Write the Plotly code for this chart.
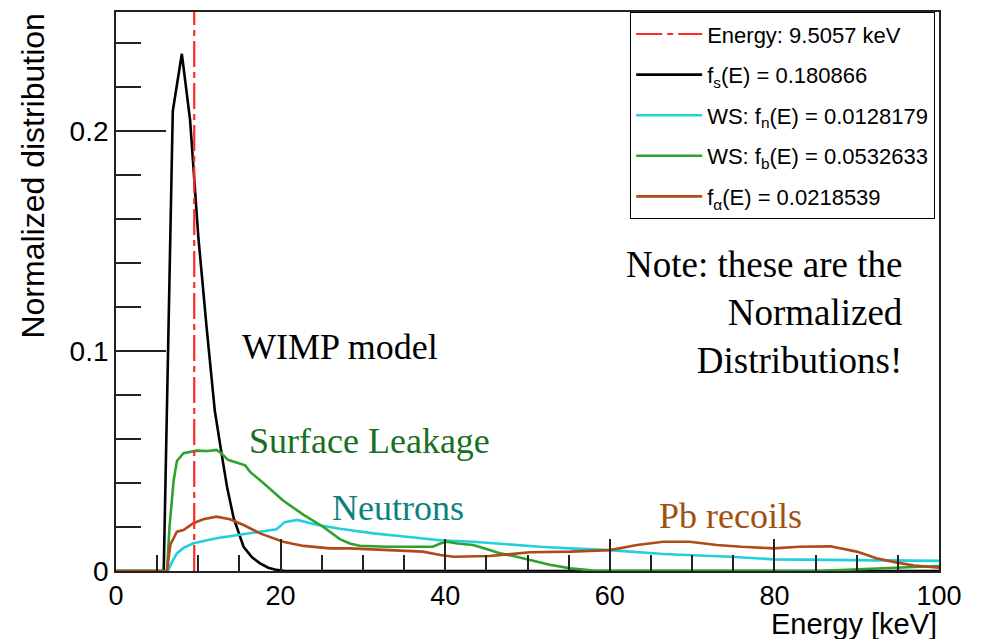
import plotly.graph_objects as go

# ---- data ----
energy_line = 9.5057

wimp_E = [0, 5.8, 6.9, 8.0, 9.0, 10.0, 11.0, 12.0, 12.8, 13.5, 14.3, 15.5, 16.5, 17.5, 18.5, 19.5, 20.5, 100]
wimp_v = [0, 0, 0.209, 0.235, 0.205, 0.152, 0.111, 0.073, 0.054, 0.038, 0.024, 0.011, 0.0063, 0.0035, 0.0015, 0.0005, 0, 0]

surf_E = [0, 6.2, 6.5, 7.0, 7.4, 8.2, 9.8, 11.2, 12.2, 12.8, 13.6, 14.2, 14.7, 15.3, 15.7, 16.3, 17.9,
          20.3, 22.8, 25.2, 27.2, 28.4, 29.6, 33.0, 36.0, 38.5, 39.4, 40.2, 41.5, 43.4, 45.4, 46.7,
          48.3, 50.3, 51.5, 52.7, 55.2, 58.0, 85.0, 90.0, 95.0, 100]
surf_v = [0, 0, 0.020, 0.041, 0.050, 0.0535, 0.0547, 0.0545, 0.055, 0.0535, 0.0505, 0.0498, 0.0492, 0.0485,
          0.0480, 0.045, 0.040, 0.032, 0.0255, 0.020, 0.0145, 0.0125, 0.0115, 0.011, 0.011, 0.011, 0.0125,
          0.0133, 0.0125, 0.0118, 0.0095, 0.0080, 0.0068, 0.0050, 0.0040, 0.0028, 0.0012, 0.0002, 0, 0.0008,
          0.0018, 0.0023]

neut_E = [0, 6.3, 6.8, 7.4, 8.2, 9.4, 12.2, 14.7, 17.5, 19.5, 20.0, 20.5, 22.0, 24.4, 27.2, 28.4, 31.3,
          35.3, 39.4, 43.4, 48.3, 51.5, 55.2, 60.0, 66.5, 74.6, 79.9, 86.8, 94.9, 100]
neut_v = [0, 0, 0.004, 0.008, 0.0105, 0.0126, 0.0149, 0.0164, 0.0179, 0.019, 0.0205, 0.0222, 0.0232,
          0.021, 0.0192, 0.0186, 0.0171, 0.0156, 0.014, 0.0133, 0.0118, 0.011, 0.0103, 0.0095, 0.0077,
          0.0065, 0.0053, 0.005, 0.0047, 0.0046]

pb_E = [0, 6.2, 6.6, 7.4, 8.2, 9.4, 10.6, 12.2, 13.85, 15.5, 17.5, 20.3, 22.8, 26.0, 28.4, 33.3, 37.3,
        39.4, 41.0, 45.4, 50.3, 55.2, 60.0, 63.3, 66.5, 69.7, 73.0, 76.0, 79.9, 83.0, 86.8, 90.0, 92.4,
        94.9, 97.0, 100]
pb_v = [0, 0, 0.012, 0.0179, 0.0186, 0.0217, 0.0235, 0.0247, 0.0235, 0.0209, 0.0171, 0.0133, 0.0114,
        0.0103, 0.0103, 0.0095, 0.0088, 0.0073, 0.0065, 0.0068, 0.0085, 0.0088, 0.0095, 0.0118, 0.0133,
        0.0133, 0.0118, 0.011, 0.0103, 0.011, 0.0112, 0.0088, 0.0058, 0.0038, 0.0025, 0.0015]

y_max = 0.254
x_ticks = [0, 20, 40, 60, 80, 100]
y_ticks = [0, 0.1, 0.2]

SANS = "Liberation Sans, Arial, sans-serif"
SERIF = "Liberation Serif, Times New Roman, serif"

fig = go.Figure()

fig.add_trace(go.Scatter(x=wimp_E, y=wimp_v, mode="lines", line=dict(color="black", width=2.6),
                         name="f<sub>s</sub>(E) = 0.180866", legendgroup="b", legendrank=2))
fig.add_trace(go.Scatter(x=neut_E, y=neut_v, mode="lines", line=dict(color="#22cfdc", width=2.6),
                         name="WS: f<sub>n</sub>(E) = 0.0128179", legendgroup="c", legendrank=3))
fig.add_trace(go.Scatter(x=surf_E, y=surf_v, mode="lines", line=dict(color="#2ea12e", width=2.6),
                         name="WS: f<sub>b</sub>(E) = 0.0532633", legendgroup="d", legendrank=4))
fig.add_trace(go.Scatter(x=pb_E, y=pb_v, mode="lines", line=dict(color="#b04a18", width=2.6),
                         name="f<sub>α</sub>(E) = 0.0218539", legendgroup="e", legendrank=5))
fig.add_trace(go.Scatter(x=[energy_line, energy_line], y=[0, y_max], mode="lines",
                         line=dict(color="#ff2a2a", width=2.2, dash="26px,5px,6px,5px"),
                         name="Energy: 9.5057 keV", legendgroup="a", legendrank=1))

fig.update_layout(
    width=985, height=639,
    margin=dict(l=116, r=46, t=10, b=68),
    paper_bgcolor="white", plot_bgcolor="white",
    font=dict(family=SANS, color="black"),
    showlegend=True,
    legend=dict(x=0.6245, y=1.0, xanchor="left", yanchor="top",
                bgcolor="white", bordercolor="black", borderwidth=1.2,
                font=dict(family=SANS, size=22, color="black"),
                tracegroupgap=9, itemwidth=66),
)

fig.update_xaxes(range=[0, 100], tickvals=x_ticks, ticks="inside", ticklen=32, tickwidth=1.5,
                 tickcolor="#222", showgrid=False, zeroline=False, showline=True, linecolor="#222",
                 linewidth=1.8, mirror=True, tickfont=dict(size=27, family=SANS),
                 minor=dict(dtick=5, ticks="inside", ticklen=16, tickwidth=1.5, tickcolor="#222", showgrid=False))
fig.update_yaxes(range=[0, y_max], tickvals=y_ticks, ticktext=["0", "0.1", "0.2"], ticks="inside",
                 ticklen=50, tickwidth=1.5, tickcolor="#222", showgrid=False, zeroline=False,
                 showline=True, linecolor="#222", linewidth=1.8, mirror=True,
                 tickfont=dict(size=28, family=SANS),
                 minor=dict(dtick=0.02, ticks="inside", ticklen=25, tickwidth=1.5, tickcolor="#222", showgrid=False))

annots = [
    dict(text="Normalized distribution", xref="paper", yref="paper", x=-0.102, y=1.0,
         xanchor="center", yanchor="top", textangle=-90, showarrow=False,
         font=dict(family=SANS, size=32, color="black")),
    dict(text="Energy [keV]", xref="paper", yref="paper", x=1.0, y=0, yshift=-53,
         xanchor="right", yanchor="middle", showarrow=False,
         font=dict(family=SANS, size=29, color="black")),
    dict(text="WIMP model", xref="x", yref="y", x=15.07, y=0.1018, xanchor="left", yanchor="middle",
         showarrow=False, font=dict(family=SERIF, size=36, color="black")),
    dict(text="Surface Leakage", xref="x", yref="y", x=15.9, y=0.0591, xanchor="left", yanchor="middle",
         showarrow=False, font=dict(family=SERIF, size=36, color="#17701e")),
    dict(text="Neutrons", xref="x", yref="y", x=26.0, y=0.0285, xanchor="left", yanchor="middle",
         showarrow=False, font=dict(family=SERIF, size=36, color="#0e8080")),
    dict(text="Pb recoils", xref="x", yref="y", x=65.7, y=0.0250, xanchor="left", yanchor="middle",
         showarrow=False, font=dict(family=SERIF, size=36, color="#a0500f")),
    dict(text="Note: these are the<br>Normalized<br>Distributions!", xref="x", yref="y", x=95.9, y=0.1173,
         xanchor="right", yanchor="middle", align="right", showarrow=False,
         font=dict(family=SERIF, size=37, color="black")),
]
fig.update_layout(annotations=annots)

fig.write_html("out.html")
